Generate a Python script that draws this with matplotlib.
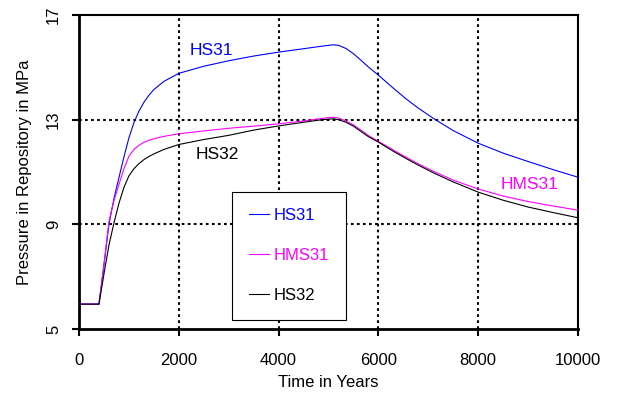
import matplotlib.pyplot as plt

plt.rcParams['font.family'] = ['Liberation Sans', 'DejaVu Sans']

years = [0, 400, 500, 600, 700, 800, 900, 1000, 1100, 1200, 1300, 1400, 1500, 1700, 2000,
         2500, 3000, 3500, 4000, 4500, 4800, 5000, 5100, 5200, 5350, 5500, 5650, 5800, 6000,
         6300, 6550, 6800, 7100, 7500, 8000, 8500, 9000, 9500, 10000]

hs31 = [5.95, 5.95, 7.45, 9.0, 9.98, 10.78, 11.57, 12.3, 12.88, 13.32, 13.66, 13.93, 14.15, 14.46, 14.77,
        15.04, 15.25, 15.43, 15.58, 15.71, 15.79, 15.84, 15.86, 15.84, 15.72, 15.52, 15.27, 15.01, 14.7,
        14.2, 13.8, 13.44, 13.05, 12.58, 12.1, 11.72, 11.4, 11.09, 10.8]
hms31 = [5.95, 5.95, 7.45, 9.1, 9.9, 10.52, 11.12, 11.6, 11.86, 12.02, 12.13, 12.21, 12.27, 12.36, 12.46,
         12.57, 12.67, 12.75, 12.84, 12.95, 13.03, 13.08, 13.09, 13.06, 12.95, 12.8, 12.6, 12.39, 12.17,
         11.84, 11.57, 11.31, 11.03, 10.69, 10.35, 10.08, 9.87, 9.7, 9.54]
hs32 = [5.95, 5.95, 7.1, 8.2, 9.05, 9.8, 10.41, 10.85, 11.12, 11.32, 11.47, 11.59, 11.69, 11.86, 12.05,
        12.24, 12.4, 12.6, 12.76, 12.9, 12.98, 13.02, 13.03, 13.0, 12.9, 12.75, 12.55, 12.35, 12.14,
        11.79, 11.52, 11.26, 10.97, 10.62, 10.23, 9.92, 9.66, 9.45, 9.25]

x_ticks = [0, 2000, 4000, 6000, 8000, 10000]
y_ticks = [5, 9, 13, 17]

BLUE = '#0000ff'
MAGENTA = '#ff00ff'
BLACK = '#000000'

fig = plt.figure(figsize=(6.23, 3.94), dpi=100)
ax = fig.add_axes([0.1268, 0.165, 0.801, 0.797])

# dotted grid drawn by hand so it only sits at the inner ticks
dots = (0, (1.3, 1.6))
for x in x_ticks[1:-1]:
	ax.axvline(x, color='black', lw=1.5, ls=dots, zorder=1)
for y in y_ticks[1:-1]:
	ax.axhline(y, color='black', lw=1.5, ls=dots, zorder=1)

ax.plot(years, hs31, color=BLUE, lw=0.8, label='HS31', zorder=3)
ax.plot(years, hms31, color=MAGENTA, lw=0.8, label='HMS31', zorder=3)
ax.plot(years, hs32, color=BLACK, lw=0.8, label='HS32', zorder=3)

ax.text(2660, 15.63, 'HS31', color=BLUE, fontsize=12.5, ha='center', va='center')
ax.text(2780, 11.65, 'HS32', color=BLACK, fontsize=12.5, ha='center', va='center')
ax.text(9020, 10.54, 'HMS31', color=MAGENTA, fontsize=12.5, ha='center', va='center')

ax.set_xlim(0, 10000)
ax.set_ylim(5, 17)
ax.set_xticks(x_ticks)
ax.set_yticks(y_ticks)
ax.tick_params(direction='out', length=5, width=1.5, labelsize=12, colors='black')
ax.tick_params(axis='x', pad=12)
ax.tick_params(axis='y', pad=8)
for lbl in ax.get_yticklabels():
	lbl.set_rotation(90)
	lbl.set_va('center')

for side in ['left', 'bottom']:
	ax.spines[side].set_linewidth(2)
for side in ['top', 'right']:
	ax.spines[side].set_linewidth(1.5)

ax.set_xlabel('Time in Years', fontsize=12, labelpad=5)
ax.set_ylabel('Pressure in Repository in MPa', fontsize=12, labelpad=10)

leg = ax.legend(loc='lower left', bbox_to_anchor=(0.307, 0.029), borderaxespad=0,
                fontsize=12, labelcolor='linecolor', handlelength=1.2, handletextpad=0.3,
                labelspacing=1.5, borderpad=1.0, fancybox=False, framealpha=1,
                edgecolor='black')
leg.get_frame().set_linewidth(0.8)
leg.set_zorder(4)

fig.savefig('out.png', dpi=100)
